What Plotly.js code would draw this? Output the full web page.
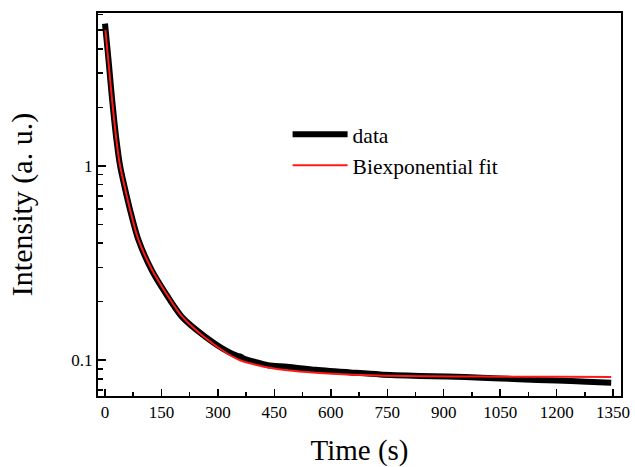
<!DOCTYPE html>
<html>
<head>
<meta charset="utf-8">
<script src="https://cdn.plot.ly/plotly-3.0.1.min.js"></script>
<style>html,body{margin:0;padding:0;background:#fff;}#chart{width:635px;height:467px;}</style>
</head>
<body>
<div id="chart"></div>
<script>
const dataTime = [0, 5, 10, 15, 21, 30, 40, 52, 66, 88, 124, 160, 204, 266, 328, 350, 360, 367, 400, 433, 484, 560, 660, 731, 838, 909, 1000, 1100, 1200, 1280, 1345];
const dataIntensity = [5.4, 4.3, 3.4, 2.65, 2.0, 1.38, 1.0, 0.78, 0.60, 0.42, 0.29, 0.222, 0.167, 0.132, 0.110, 0.1052, 0.1042, 0.1022, 0.0975, 0.094, 0.0923, 0.0890, 0.0860, 0.0842, 0.0828, 0.0822, 0.0810, 0.0796, 0.0783, 0.0773, 0.0764];

// biexponential fit curve
const fitTime = [1, 5, 10, 15, 21, 30, 40, 52, 66, 88, 124, 160, 204, 266, 328, 360, 400, 433, 484, 560, 660, 750, 838, 1000, 1200, 1345];
const fitIntensity = [5.0, 4.15, 3.3, 2.6, 1.98, 1.37, 1.0, 0.785, 0.60, 0.42, 0.293, 0.224, 0.168, 0.130, 0.107, 0.0994, 0.0945, 0.0915, 0.0885, 0.0860, 0.0840, 0.0829, 0.0824, 0.0821, 0.0819, 0.0818];

const seriesNames = ['data', 'Biexponential fit'];
const xTickVals = [0, 150, 300, 450, 600, 750, 900, 1050, 1200, 1350];
const yTickVals = [0.1, 1];
const yTickText = ['0.1', '1'];
const yMinorVals = [0.07, 0.08, 0.09, 0.2, 0.3, 0.4, 0.5, 0.6, 0.7, 0.8, 0.9, 2, 3, 4, 5, 6];

const font = '"Liberation Serif", "Times New Roman", Times, serif';

const traces = [
  {x: dataTime, y: dataIntensity, name: seriesNames[0], mode: 'lines',
   line: {color: '#000000', width: 6, shape: 'spline', smoothing: 0.8}},
  {x: fitTime, y: fitIntensity, name: seriesNames[1], mode: 'lines',
   line: {color: '#ff1a1a', width: 2, shape: 'spline', smoothing: 0.8}}
];

const layout = {
  width: 635, height: 467,
  margin: {l: 98, r: 14, t: 13, b: 71},
  paper_bgcolor: '#ffffff', plot_bgcolor: '#ffffff',
  font: {family: font, color: '#000000', size: 16},
  showlegend: true,
  legend: {x: 0.3625, y: 0.737, xanchor: 'left', yanchor: 'top', itemwidth: 55,
           bgcolor: 'rgba(0,0,0,0)', font: {family: font, size: 21.5, color: '#000'},
           tracegroupgap: 0},
  xaxis: {
    range: [-18.6, 1371], tickmode: 'array', tickvals: xTickVals,
    ticks: 'inside', ticklen: 7, tickwidth: 1.5, tickcolor: '#000',
    minor: {dtick: 75, tick0: 0, ticks: 'inside', ticklen: 4, tickwidth: 1.5, tickcolor: '#000'},
    showline: true, linecolor: '#000', linewidth: 2, mirror: true,
    showgrid: false, zeroline: false,
    tickfont: {family: font, size: 17, color: '#000'},
    title: {text: 'Time (s)', font: {family: font, size: 29, color: '#000'}, standoff: 20},
    automargin: false
  },
  yaxis: {
    type: 'log', range: [-1.1856, 0.787],
    tickmode: 'array', tickvals: yTickVals, ticktext: yTickText,
    ticks: 'inside', ticklen: 8, tickwidth: 1.5, tickcolor: '#000',
    minor: {tickmode: 'array', tickvals: yMinorVals, ticks: 'inside', ticklen: 5, tickwidth: 1.5, tickcolor: '#000'},
    showline: true, linecolor: '#000', linewidth: 2, mirror: true,
    showgrid: false, zeroline: false,
    tickfont: {family: font, size: 17, color: '#000'},
    title: {text: 'Intensity (a. u.)', font: {family: font, size: 30, color: '#000'}, standoff: 30},
    automargin: false
  }
};

Plotly.newPlot('chart', traces, layout, {displayModeBar: false, staticPlot: true});
</script>
</body>
</html>
